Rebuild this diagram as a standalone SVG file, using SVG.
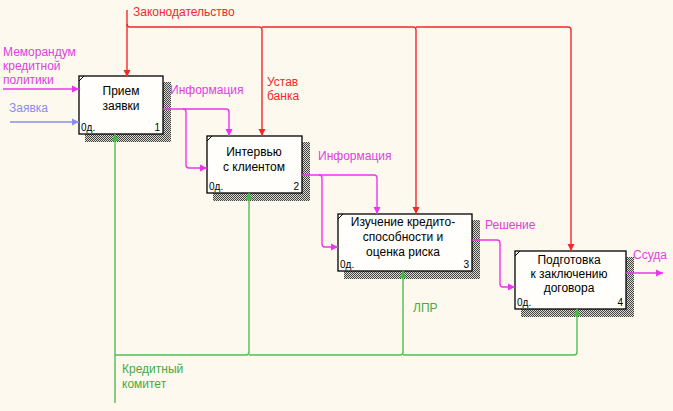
<svg xmlns="http://www.w3.org/2000/svg" width="673" height="411" viewBox="0 0 673 411">
<style>
text{font-family:"Liberation Sans",Arial,sans-serif;font-size:12px}
.box{fill:#fffefa;stroke:#000;stroke-width:1.3}
.sh{fill:url(#hatch)}
.t{text-anchor:middle;fill:#000}
.sm{font-size:10px;fill:#000}
.r{fill:none;stroke:#ee2a2a;stroke-width:1.4}
.m{fill:none;stroke:#ee33ee;stroke-width:1.4}
.g{fill:none;stroke:#55bb55;stroke-width:1.4}
.b{fill:none;stroke:#8c8cee;stroke-width:1.4}
.lr{fill:#ee2a2a}
.lm{fill:#e040e0}
.lg{fill:#44aa44}
.lb{fill:#8c8cee}
</style>
<defs>
<pattern id="hatch" width="2" height="2" patternUnits="userSpaceOnUse">
<rect width="2" height="2" fill="#d8d8d0"/>
<rect width="1" height="1" fill="#444"/>
<rect x="1" y="1" width="1" height="1" fill="#444"/>
</pattern>
<marker id="ar" markerWidth="8" markerHeight="8" refX="7" refY="4" orient="auto" markerUnits="userSpaceOnUse"><path d="M0,0.5 L7,4 L0,7.5 Z" fill="#ee2a2a"/></marker>
<marker id="am" markerWidth="8" markerHeight="8" refX="7" refY="4" orient="auto" markerUnits="userSpaceOnUse"><path d="M0,0.5 L7,4 L0,7.5 Z" fill="#ee33ee"/></marker>
<marker id="ag" markerWidth="8" markerHeight="8" refX="7" refY="4" orient="auto" markerUnits="userSpaceOnUse"><path d="M0,0.5 L7,4 L0,7.5 Z" fill="#44bb44"/></marker>
<marker id="ab" markerWidth="8" markerHeight="8" refX="7" refY="4" orient="auto" markerUnits="userSpaceOnUse"><path d="M0,0.5 L7,4 L0,7.5 Z" fill="#8c8cee"/></marker>
</defs>
<rect width="673" height="411" fill="#fdf9ee"/>

<g id="node1">
<rect class="sh" x="85" y="82" width="86" height="60"/>
<rect class="box" x="79" y="76" width="84" height="58"/>
<path d="M79,81 L84,76" stroke="#000" stroke-width="1"/>
<text class="t" x="121" y="95">Прием</text>
<text class="t" x="121" y="110">заявки</text>
<text class="sm" x="81" y="131">0д.</text>
<text class="sm" x="160" y="131" text-anchor="end">1</text>
</g>

<g id="node2">
<rect class="sh" x="213" y="142" width="97" height="59"/>
<rect class="box" x="207" y="136" width="95" height="57"/>
<path d="M207,141 L212,136" stroke="#000" stroke-width="1"/>
<text class="t" x="254" y="156">Интервью</text>
<text class="t" x="254" y="171">с клиентом</text>
<text class="sm" x="209" y="190">0д.</text>
<text class="sm" x="299" y="190" text-anchor="end">2</text>
</g>

<g id="node3">
<rect class="sh" x="344" y="220" width="136" height="59"/>
<rect class="box" x="338" y="214" width="134" height="57"/>
<path d="M338,219 L343,214" stroke="#000" stroke-width="1"/>
<text class="t" x="403" y="226">Изучение кредито-</text>
<text class="t" x="403" y="241">способности и</text>
<text class="t" x="403" y="256">оценка риска</text>
<text class="sm" x="340" y="268">0д.</text>
<text class="sm" x="469" y="268" text-anchor="end">3</text>
</g>

<g id="node4">
<rect class="sh" x="521" y="257" width="113" height="60"/>
<rect class="box" x="515" y="251" width="111" height="58"/>
<path d="M515,256 L520,251" stroke="#000" stroke-width="1"/>
<text class="t" x="569" y="264">Подготовка</text>
<text class="t" x="569" y="278">к заключению</text>
<text class="t" x="569" y="292">договора</text>
<text class="sm" x="517" y="306">0д.</text>
<text class="sm" x="623" y="306" text-anchor="end">4</text>
</g>

<g id="connectors">
<path class="r" d="M127,10 V77" marker-end="url(#ar)"/>
<path class="r" d="M127,24 q0,3 3,3 H259 q3,0 3,3 V136" marker-end="url(#ar)"/>
<path class="r" d="M262,27 H413 q3,0 3,3 V214" marker-end="url(#ar)"/>
<path class="r" d="M416,27 H568 q3,0 3,3 V251" marker-end="url(#ar)"/>

<path class="m" d="M3,89 H79" marker-end="url(#am)"/>
<path class="b" d="M10,122 H79" marker-end="url(#ab)"/>
<path class="m" d="M163,109 H226 q3,0 3,3 V136" marker-end="url(#am)"/>
<path class="m" d="M183,109 q3,0 3,3 V165 q0,3 3,3 H207" marker-end="url(#am)"/>
<path class="m" d="M302,175 H374 q3,0 3,3 V214" marker-end="url(#am)"/>
<path class="m" d="M319,175 q3,0 3,3 V244 q0,3 3,3 H338" marker-end="url(#am)"/>
<path class="m" d="M472,240 H497 q3,0 3,3 V284 q0,3 3,3 H515" marker-end="url(#am)"/>
<path class="m" d="M626,273 H663" marker-end="url(#am)"/>

<path class="g" d="M115,403 V134" marker-end="url(#ag)"/>
<path class="g" d="M115,355 H246 q3,0 3,-3 V193" marker-end="url(#ag)"/>
<path class="g" d="M249,355 H400 q3,0 3,-3 V271" marker-end="url(#ag)"/>
<path class="g" d="M403,355 H574 q3,0 3,-3 V309" marker-end="url(#ag)"/>
</g>

<g id="labels">
<text class="lr" x="133" y="16">Законодательство</text>
<text class="lm" x="3" y="56">Меморандум</text>
<text class="lm" x="3" y="70">кредитной</text>
<text class="lm" x="3" y="84">политики</text>
<text class="lb" x="9" y="112">Заявка</text>
<text class="lm" x="170" y="94">Информация</text>
<text class="lr" x="267" y="86">Устав</text>
<text class="lr" x="267" y="100">банка</text>
<text class="lm" x="318" y="160">Информация</text>
<text class="lm" x="485" y="229">Решение</text>
<text class="lm" x="633" y="259">Ссуда</text>
<text class="lg" x="413" y="312">ЛПР</text>
<text class="lg" x="122" y="373">Кредитный</text>
<text class="lg" x="122" y="388">комитет</text>
</g>
</svg>
